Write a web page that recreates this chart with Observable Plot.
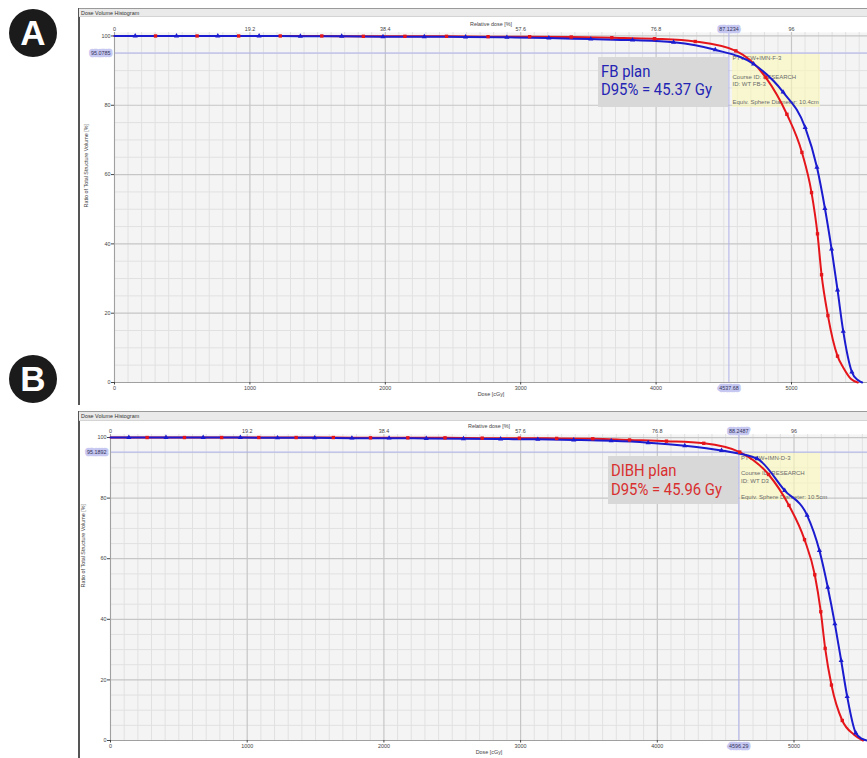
<!DOCTYPE html>
<html><head><meta charset="utf-8">
<script src="https://cdn.jsdelivr.net/npm/d3@7"></script>
<script src="https://cdn.jsdelivr.net/npm/@observablehq/plot@0.6"></script>
<style>
body{margin:0;background:#fff;}
#root{position:relative;width:867px;height:758px;overflow:hidden;font-family:"Liberation Sans",Arial,sans-serif;}
#root div{position:absolute;box-sizing:border-box;}
.circ{width:48px;height:48px;border-radius:50%;background:#1b1b1b;color:#fff;font:700 35px "Liberation Sans",Arial,sans-serif;display:flex;align-items:center;justify-content:center;line-height:48px;}
.bar{background:#eaeaea;border-top:1px solid #9a9a9a;border-bottom:1px solid #d4d4d4;font-size:5.4px;color:#333;padding-left:2px;line-height:8px;}
.note{background:#d8d8d8;}
.note span{position:absolute;left:3px;font:16.5px Roboto,sans-serif;white-space:nowrap;transform:scaleX(0.9);transform-origin:left center;line-height:18px;}
.tip{background:rgba(250,248,185,0.62);}
.tipline{font-size:6px;color:#6a6a6a;white-space:nowrap;line-height:8px;}
</style></head><body><div id="root"></div>
<script>
// ---------- shared axis values ----------
const doseTicks = [0, 1000, 2000, 3000, 4000, 5000];
const doseTickLabels = ["0", "1000", "2000", "3000", "4000", "5000"];
const relTickLabels = ["0", "19.2", "38.4", "57.6", "76.8", "96"];
const volTicks = [0, 20, 40, 60, 80, 100];
const titleText = ["Dose Volume Histogram"];
const axisTitles = ["Dose [cGy]", "Relative dose [%]", "Ratio of Total Structure Volume [%]"];

// ---------- Panel A (FB plan) ----------
const aRedDose = [0, 303, 610, 917, 1224, 1531, 1838, 2145, 2452, 2759, 3066, 3373, 3673, 3988, 4289, 4589, 4811, 4966, 5077, 5148, 5192, 5222, 5269, 5340, 5384, 5440, 5490];
const aRedVol  = [100, 100, 100, 100, 100, 100, 99.9, 99.9, 99.9, 99.8, 99.8, 99.7, 99.5, 99.2, 98.4, 95.7, 88.0, 77.4, 66.4, 54.8, 42.9, 31.1, 19.3, 7.6, 4.2, 1.0, 0];
const aRedMark = [0, 1, 1, 1, 1, 1, 1, 1, 1, 1, 1, 1, 1, 1, 1, 1, 1, 1, 1, 1, 1, 1, 1, 1, 0, 0, 0];
const aBlueDose = [0, 153, 458, 763, 1068, 1373, 1678, 1983, 2288, 2593, 2898, 3208, 3518, 3826, 4129, 4437, 4720, 4938, 5101, 5188, 5247, 5296, 5340, 5382, 5446, 5490, 5522];
const aBlueVol  = [100, 100, 100, 100, 100, 99.9, 99.9, 99.8, 99.8, 99.7, 99.6, 99.4, 99.1, 98.8, 98.2, 96.0, 91.9, 83.8, 73.6, 62.1, 50.2, 38.5, 26.7, 14.8, 3.0, 0.7, 0];
const aBlueMark = [0, 1, 1, 1, 1, 1, 1, 1, 1, 1, 1, 1, 1, 1, 1, 1, 1, 1, 1, 1, 1, 1, 1, 1, 1, 0, 0];
const aRefDose = [4537.68];
const aRefVol = [95.0785];
const aRefLabels = ["4537.68", "95.0785", "87.1234"];
const aNote = ["FB plan", "D95% = 45.37 Gy"];
const aTip = ["PTV CW+IMN-F-3", "Course ID: RESEARCH", " ID: WT FB-3", "Equiv. Sphere Diameter: 10.4cm"];

// ---------- Panel B (DIBH plan) ----------
const bRedDose = [0, 268, 541, 813, 1085, 1358, 1630, 1902, 2175, 2447, 2719, 2991, 3264, 3528, 3797, 4067, 4340, 4603, 4814, 4963, 5077, 5152, 5196, 5228, 5274, 5353, 5437, 5505];
const bRedVol  = [100, 100, 100, 100, 100, 100, 100, 99.9, 99.9, 99.9, 99.8, 99.8, 99.7, 99.6, 99.2, 98.8, 98.1, 95.2, 87.8, 77.6, 66.3, 54.7, 42.5, 30.4, 18.3, 6.6, 2.0, 0];
const bRedMark = [0, 1, 1, 1, 1, 1, 1, 1, 1, 1, 1, 1, 1, 1, 1, 1, 1, 1, 1, 1, 1, 1, 1, 1, 1, 1, 0, 0];
const bBlueDose = [0, 134, 406, 678, 950, 1222, 1494, 1766, 2038, 2310, 2582, 2854, 3126, 3389, 3663, 3933, 4201, 4470, 4731, 4932, 5096, 5186, 5247, 5299, 5345, 5389, 5452, 5500, 5535];
const bBlueVol  = [100, 100, 100, 100, 100, 99.9, 99.9, 99.8, 99.8, 99.7, 99.6, 99.5, 99.4, 99.2, 98.9, 98.3, 97.3, 95.7, 93.0, 82.5, 74.3, 62.7, 50.6, 38.5, 26.4, 14.5, 2.5, 0.5, 0];
const bBlueMark = [0, 1, 1, 1, 1, 1, 1, 1, 1, 1, 1, 1, 1, 1, 1, 1, 1, 1, 1, 1, 1, 1, 1, 1, 1, 1, 1, 0, 0];
const bRefDose = [4596.29];
const bRefVol = [95.1892];
const bRefLabels = ["4596.29", "95.1892", "88.2487"];
const bNote = ["DIBH plan", "D95% = 45.96 Gy"];
const bTip = ["PTV CW+IMN-D-3", "Course ID: RESEARCH", " ID: WT D3", "Equiv. Sphere Diameter: 10.5cm"];

// ---------- colours ----------
const RED = "#e5161b", BLUE = "#1b1bcf";

const root = document.getElementById("root");
function el(cls, css, text) {
  const d = document.createElement("div");
  if (cls) d.className = cls;
  Object.assign(d.style, css);
  if (text != null) d.textContent = text;
  root.appendChild(d);
  return d;
}
const rows = (dose, vol, mark) => dose.map((d, i) => ({dose: d, vol: vol[i], mark: mark[i]}));

function panel(p) {
  // window frame
  el("", {left: "78px", top: p.frameTop + "px", width: "2px", height: p.frameH + "px", background: "#555"});
  el("bar", {left: "79px", top: p.frameTop + "px", width: "788px", height: (p.svgTop - p.frameTop) + "px"}, titleText[0]);

  const xMax = (788 - p.ml) / p.kx;
  const minorX = d3.range(100, xMax, 100).filter(v => v % 1000 !== 0);
  const minorY = d3.range(5, 101, 5).filter(v => v % 20 !== 0);
  const common = {
    width: 788, height: p.svgH, marginLeft: p.ml, marginRight: 0, marginTop: p.mt, marginBottom: 18,
    style: {background: "transparent", fontFamily: "'Liberation Sans', Arial, sans-serif", fontSize: "5.4px", color: "#444", overflow: "visible"}
  };
  const hl = {fill: "#33335a", stroke: "#c6c8f1", strokeWidth: 4.5};
  const base = Plot.plot({
    ...common,
    x: {domain: [0, xMax]}, y: {domain: [0, 101]},
    marks: [
      Plot.frame({fill: "#f4f4f4", stroke: "none"}),
      Plot.ruleX(minorX, {stroke: "#e1e1e1", strokeWidth: 1}),
      Plot.ruleY(minorY, {stroke: "#e1e1e1", strokeWidth: 1}),
      Plot.ruleX(doseTicks, {stroke: "#c6c6c6", strokeWidth: 1.2}),
      Plot.ruleY(volTicks, {stroke: "#c6c6c6", strokeWidth: 1.2}),
      Plot.ruleX(p.refDose, {stroke: "#aeb0e8", strokeWidth: 1}),
      Plot.ruleY(p.refVol, {stroke: "#aeb0e8", strokeWidth: 1}),
      Plot.ruleX([0], {stroke: "#a0a0a0"}),
      Plot.ruleY([0], {stroke: "#a0a0a0"}),
      Plot.axisX({anchor: "bottom", ticks: doseTicks, tickSize: 2.5, tickPadding: 1.5,
        tickFormat: d => doseTickLabels[doseTicks.indexOf(d)], label: null}),
      Plot.axisX({anchor: "top", ticks: doseTicks, tickSize: 0, tickPadding: 1.5,
        tickFormat: d => relTickLabels[doseTicks.indexOf(d)], label: null}),
      Plot.axisY({anchor: "left", ticks: volTicks, tickSize: 3, tickPadding: 1, label: null}),
      Plot.text([axisTitles[0]], {frameAnchor: "bottom", dy: 13}),
      Plot.text([axisTitles[1]], {frameAnchor: "top", dy: -10.5}),
      Plot.text([axisTitles[2]], {frameAnchor: "left", rotate: -90, dx: -p.ylabOff}),
      Plot.text(p.refDose, {x: d => d, text: () => p.refLabels[0], frameAnchor: "bottom", lineAnchor: "top", dy: 4, ...hl}),
      Plot.text(p.refVol, {y: d => d, text: () => p.refLabels[1], frameAnchor: "left", textAnchor: "end", dx: -4, ...hl}),
      Plot.text(p.refDose, {x: d => d, text: () => p.refLabels[2], frameAnchor: "top", lineAnchor: "bottom", dy: -1.5, ...hl})
    ]
  });
  Object.assign(base.style, {position: "absolute", left: "79px", top: p.svgTop + "px"});
  root.appendChild(base);

  // info tooltip (under the curves)
  el("tip", {left: p.tip[0] + "px", top: p.tip[1] + "px", width: p.tip[2] + "px", height: p.tip[3] + "px"});
  p.tipText.forEach((t, i) => el("tipline", {left: (p.tip[0] + 1) + "px", top: (p.tipY[i] - 4) + "px"}, t));

  const red = rows(p.redDose, p.redVol, p.redMark);
  const blue = rows(p.blueDose, p.blueVol, p.blueMark);
  const top = Plot.plot({
    ...common,
    x: {domain: [0, xMax], axis: null}, y: {domain: [0, 101], axis: null},
    marks: [
      Plot.line(red, {x: "dose", y: "vol", stroke: RED, strokeWidth: 2, curve: "monotone-x"}),
      Plot.line(blue, {x: "dose", y: "vol", stroke: BLUE, strokeWidth: 2, curve: "monotone-x"}),
      Plot.dot(red.filter(r => r.mark), {x: "dose", y: "vol", symbol: "square", r: 1.9, fill: RED, stroke: "none"}),
      Plot.dot(blue.filter(r => r.mark), {x: "dose", y: "vol", symbol: "triangle", r: 1.9, fill: BLUE, stroke: "none"})
    ]
  });
  Object.assign(top.style, {position: "absolute", left: "79px", top: p.svgTop + "px", background: "transparent"});
  root.appendChild(top);

  // plan annotation
  const n = el("note", {left: p.note[0] + "px", top: p.note[1] + "px", width: p.note[2] + "px", height: p.note[3] + "px"});
  p.noteText.forEach((t, i) => {
    const s = document.createElement("span");
    s.textContent = t;
    s.style.top = (p.noteY[i] - 9) + "px";
    s.style.color = p.noteColor;
    n.appendChild(s);
  });
}

// panel letters
el("circ", {left: "9px", top: "9px"}, "A");
el("circ", {left: "9px", top: "355px"}, "B");

panel({
  frameTop: 8, frameH: 397, svgTop: 17, svgH: 383, ml: 35, mt: 15, kx: 0.1354, ylabOff: 28,
  redDose: aRedDose, redVol: aRedVol, redMark: aRedMark,
  blueDose: aBlueDose, blueVol: aBlueVol, blueMark: aBlueMark,
  refDose: aRefDose, refVol: aRefVol, refLabels: aRefLabels,
  tip: [731.5, 53.5, 88.5, 53], tipText: aTip, tipY: [58.3, 76.7, 84, 102.3],
  note: [598, 57, 130, 50], noteText: aNote, noteY: [14.7, 33.3], noteColor: "#2424b4"
});

panel({
  frameTop: 411, frameH: 347, svgTop: 421, svgH: 337, ml: 31, mt: 13, kx: 0.1367, ylabOff: 27,
  redDose: bRedDose, redVol: bRedVol, redMark: bRedMark,
  blueDose: bBlueDose, blueVol: bBlueVol, blueMark: bBlueMark,
  refDose: bRefDose, refVol: bRefVol, refLabels: bRefLabels,
  tip: [740, 453.3, 80, 46.7], tipText: bTip, tipY: [458.3, 473.3, 481, 496.7],
  note: [608, 456, 130, 48], noteText: bNote, noteY: [14.7, 34], noteColor: "#d92f2f"
});
</script></body></html>
